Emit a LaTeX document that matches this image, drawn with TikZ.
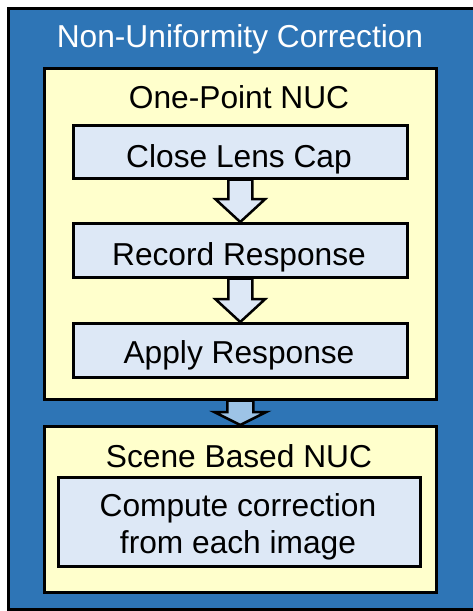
\documentclass[tikz,border=0pt]{standalone}
\usepackage{fontspec}
\setmainfont{Liberation Sans}
\usepackage{tikz}
\usetikzlibrary{calc}

\definecolor{nucblue}{HTML}{2E75B6}
\definecolor{nucyellow}{HTML}{FFFFCC}
\definecolor{nuclight}{HTML}{DDE8F6}
\definecolor{nucarrow}{HTML}{9DC3E6}
\newcommand{\nucfont}{\fontsize{31.7}{37}\selectfont}

\begin{document}
\begin{tikzpicture}[x=1pt,y=-1pt,every node/.style={font=\nucfont}]
\tikzset{
  framebox/.style={draw=black,line width=2.5pt,fill=nucblue,inner sep=0,anchor=north west},
  groupbox/.style={draw=black,line width=2.5pt,fill=nucyellow,inner sep=0,anchor=north west},
  stepbox/.style={draw=black,line width=2.5pt,fill=nuclight,inner sep=0,anchor=north west},
  steptext/.style={anchor=base,inner sep=0},
  blockarrow/.style={draw=black,line width=2.5pt,fill=nuclight,line join=miter}
}
\useasboundingbox (0,0) rectangle (472,611);
% outer frame
\node[framebox,minimum width=472,minimum height=601] (nuc) at (7,7) {};
\node[steptext,text=white] (nuctitle) at (240,47) {Non-Uniformity Correction};
% one-point group
\node[groupbox,minimum width=392,minimum height=331] (onept) at (43,67) {};
\node[steptext] (onepttitle) at (239,108) {One-Point NUC};
\node[stepbox,minimum width=334,minimum height=53] (close) at (72,124) {};
\node[steptext] (closetext) at (239,167) {Close Lens Cap};
\node[stepbox,minimum width=334,minimum height=54] (record) at (72,222) {};
\node[steptext] (recordtext) at (239,265) {Record Response};
\node[stepbox,minimum width=334,minimum height=54] (apply) at (72,322) {};
\node[steptext] (applytext) at (239,363) {Apply Response};
% scene based group
\node[groupbox,minimum width=392,minimum height=166] (scene) at (43,425) {};
\node[steptext] (scenetitle) at (239,467) {Scene Based NUC};
\node[stepbox,minimum width=362,minimum height=89] (compute) at (57,476) {};
\node[steptext] (computetext) at (238,516) {Compute correction};
\node[steptext] (computetextb) at (238,553) {from each image};
% arrows
\draw[blockarrow] ($(close.south)+(-12,0)$) -- ($(record.north)+(-12,-23)$)
  -- ($(record.north)+(-25,-23)$) -- (record.north) -- ($(record.north)+(25,-23)$)
  -- ($(record.north)+(12,-23)$) -- ($(close.south)+(12,0)$) -- cycle;
\draw[blockarrow] ($(record.south)+(-12,0)$) -- ($(apply.north)+(-12,-23)$)
  -- ($(apply.north)+(-25,-23)$) -- (apply.north) -- ($(apply.north)+(25,-23)$)
  -- ($(apply.north)+(12,-23)$) -- ($(record.south)+(12,0)$) -- cycle;
\draw[blockarrow,fill=nucarrow] ($(onept.south)+(-13,0)$) -- ($(scene.north)+(-13,-13)$)
  -- ($(scene.north)+(-26,-13)$) -- (scene.north) -- ($(scene.north)+(26,-13)$)
  -- ($(scene.north)+(13,-13)$) -- ($(onept.south)+(13,0)$) -- cycle;
\end{tikzpicture}
\end{document}
